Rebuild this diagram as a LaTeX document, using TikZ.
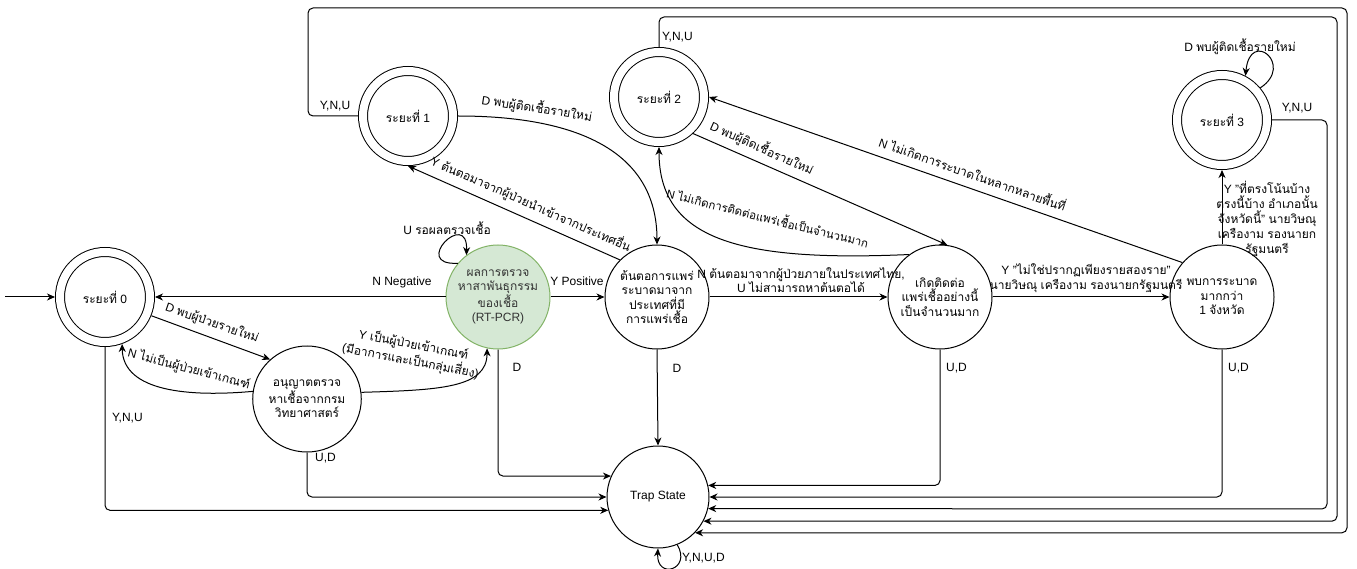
\documentclass[tikz,border=0pt]{standalone}
\usepackage{fontspec}
\setmainfont{Liberation Sans}
\newfontfamily\thaifont[Script=Thai]{Loma}
\usetikzlibrary{arrows.meta,shapes.geometric}

% switch to the Thai family automatically for characters U+0E00..U+0E7F
\XeTeXinterchartokenstate=1
\newXeTeXintercharclass\thaiclass
\count255="0E00
\loop
  \XeTeXcharclass\count255=\thaiclass
  \ifnum\count255<"0E7F \advance\count255 by 1
\repeat
\XeTeXinterchartoks 0 \thaiclass = {\thaifont}
\XeTeXinterchartoks 4095 \thaiclass = {\thaifont}
\XeTeXinterchartoks \thaiclass 0 = {\rmfamily}
\XeTeXinterchartoks \thaiclass 4095 = {\rmfamily}

\definecolor{pcrfill}{HTML}{D5E8D4}
\definecolor{pcrline}{HTML}{82B366}
\definecolor{pcrtext}{HTML}{333333}

\tikzset{
  txt/.style={font=\fontsize{12}{14.4}\selectfont},
  lbl/.style={txt, inner sep=0pt, align=center},
  phase/.style={txt, circle, draw, line width=1pt, double, double distance=8pt,
    minimum size=90pt, outer sep=5pt, inner sep=0pt, align=center},
  stepnode/.style={txt, circle, draw, line width=1pt, minimum size=104pt,
    inner sep=0pt, align=center},
  oval/.style={txt, ellipse, draw, line width=1pt, inner sep=0pt, align=center},
  edge/.style={draw, line width=1pt, -{Stealth[length=8pt,width=7pt,inset=2.5pt]}},
  elbow/.style={edge, rounded corners=5pt},
}

\begin{document}
\begin{tikzpicture}[x=1pt,y=-1pt]
\useasboundingbox (0,0) rectangle (1357,569);

% ---- states ----
\node[phase] (s0) at (105,297) {ระยะที่ 0};
\node[phase] (s1) at (408,116) {ระยะที่ 1};
\node[phase] (s2) at (659,97) {ระยะที่ 2};
\node[phase] (s3) at (1222,120) {ระยะที่ 3};
\node[stepnode, fill=pcrfill, draw=pcrline, text=pcrtext] (pcr) at (498,297)
  {ผลการตรวจ\\หาสาพันธุกรรม\\ของเชื้อ\\(RT-PCR)};
\node[stepnode] (origin) at (657,297) {ต้นตอการแพร่\\ระบาดมาจาก\\ประเทศที่มี\\การแพร่เชื้อ};
\node[stepnode] (spread) at (940,297) {เกิดติดต่อ\\แพร่เชื้ออย่างนี้\\เป็นจำนวนมาก};
\node[stepnode] (outbreak) at (1222,297) {พบการระบาด\\มากกว่า\\1 จังหวัด};
\node[oval, minimum width=100pt, minimum height=106pt] (permit) at (307,399)
  {อนุญาตตรวจ\\หาเชื้อจากกรม\\วิทยาศาสตร์};
\node[stepnode, minimum size=102pt] (trap) at (658,497) {Trap State};

% ---- start ----
\coordinate (init) at (5,297);
\draw[edge] (init) -- (s0.west);

% ---- test result ----
\draw[edge] (pcr.west) -- (s0.east);
\node[lbl] (lneg) at (402,282) {N Negative};
\draw[edge] (pcr.east) -- (origin.west);
\node[lbl] (lpos) at (577,281) {Y Positive};
\draw[edge] (pcr.140) .. controls (410,266) and (468,208) .. (pcr.127);
\node[lbl] (lwait) at (447,228) {U รอผลตรวจเชื้อ};

% ---- phase 0 / permit ----
\draw[edge] (s0.-22) -- (permit.133);
\node[lbl, rotate=-19] (lnew0) at (212,323) {D พบผู้ป่วยรายใหม่};
\draw[edge] (permit.172) .. controls (190,397) and (123,392) .. (s0.-70);
\node[lbl, rotate=-15] (lnot0) at (189,369) {N ไม่เป็นผู้ป่วยเข้าเกณฑ์};
\draw[edge] (permit.7) .. controls (440,390) and (487,388) .. (pcr.-102);
\node[lbl, rotate=-11] (lyes0) at (412,353) {Y เป็นผู้ป่วยเข้าเกณฑ์\\(มีอาการและเป็นกลุ่มเสี่ยง)};

% ---- origin / phase 1 / phase 2 ----
\draw[edge] (origin.135) -- (s1.south);
\node[lbl, rotate=-23.8] (limp) at (531,204) {Y ต้นตอมาจากผู้ป่วยนำเข้าจากประเทศอื่น};
\draw[edge] (s1.east) .. controls (575,116) and (657,150) .. (origin.north);
\node[lbl, rotate=-9] (lnew1) at (537,108) {D พบผู้ติดเชื้อรายใหม่};
\draw[edge] (s2.-47) -- (spread.82);
\node[lbl, rotate=-24] (lnew2) at (762,148) {D พบผู้ติดเชื้อรายใหม่};
\draw[edge] (spread.126) .. controls (740,262) and (659,240) .. (s2.south);
\node[lbl, rotate=-14, font=\fontsize{11.5}{14}\selectfont] (lnot2) at (768,217) {N ไม่เกิดการติดต่อแพร่เชื้อเป็นจำนวนมาก};
\draw[edge] (outbreak.139) -- (s2.east);
\node[lbl, rotate=-19.3] (lnot3) at (973,173) {N ไม่เกิดการระบาดในหลากหลายพื้นที่};

% ---- main chain ----
\draw[edge] (origin.east) -- (spread.west);
\node[lbl] (ldom) at (801,280) {N ต้นตอมาจากผู้ป่วยภายในประเทศไทย,\\U ไม่สามารถหาต้นตอได้};
\draw[edge] (spread.east) -- (outbreak.west);
\node[lbl] (lmany) at (1086,278) {Y "ไม่ใช่ปรากฏเพียงรายสองราย"\\นายวิษณุ เครืองาม รองนายกรัฐมนตรี};
\draw[edge] (outbreak.north) -- (s3.south);
\node[lbl, font=\fontsize{12}{15}\selectfont] (lwide) at (1267,219) {Y "ที่ตรงโน้นบ้าง\\ตรงนี้บ้าง อำเภอนั้น\\จังหวัดนี้" นายวิษณุ\\เครืองาม รองนายก\\รัฐมนตรี};
\draw[edge] (s3.40) .. controls (1295,65) and (1250,28) .. (s3.62);
\node[lbl] (lnew3) at (1240,47) {D พบผู้ติดเชื้อรายใหม่};

% ---- into the trap state ----
\draw[elbow] (s0.south) |- (trap.-165.2);
\node[lbl, anchor=west] (lt0) at (112,418) {Y,N,U};
\draw[elbow] (permit.south) |- (trap.west);
\node[lbl, anchor=west] (ltp) at (315,458) {U,D};
\draw[elbow] (pcr.south) |- (trap.156.9);
\node[lbl] (ltr) at (517,367) {D};
\draw[edge] (origin.south) -- (trap.north);
\node[lbl] (lto) at (677,368) {D};
\draw[elbow] (spread.south) |- (trap.13.6);
\node[lbl, anchor=west] (lts) at (946,368) {U,D};
\draw[elbow] (outbreak.south) |- (trap.east);
\node[lbl, anchor=west] (ltb) at (1228,368) {U,D};
\draw[elbow] (s3.east) -| (1327,509) -- (trap.-13.6);
\node[lbl] (lt3) at (1297,108) {Y,N,U};
\draw[elbow] (s2.north) |- (1337,17) |- (trap.-28.1);
\node[lbl, anchor=west] (lt2) at (662,37) {Y,N,U};
\draw[elbow] (s1.west) -- (308,116) |- (1347,8) |- (trap.-44.9);
\node[lbl] (lt1) at (335,106) {Y,N,U};
\draw[edge] (trap.-68) .. controls (692,570) and (656,580) .. (trap.south);
\node[lbl, anchor=west] (ltt) at (682,558) {Y,N,U,D};
\end{tikzpicture}
\end{document}
